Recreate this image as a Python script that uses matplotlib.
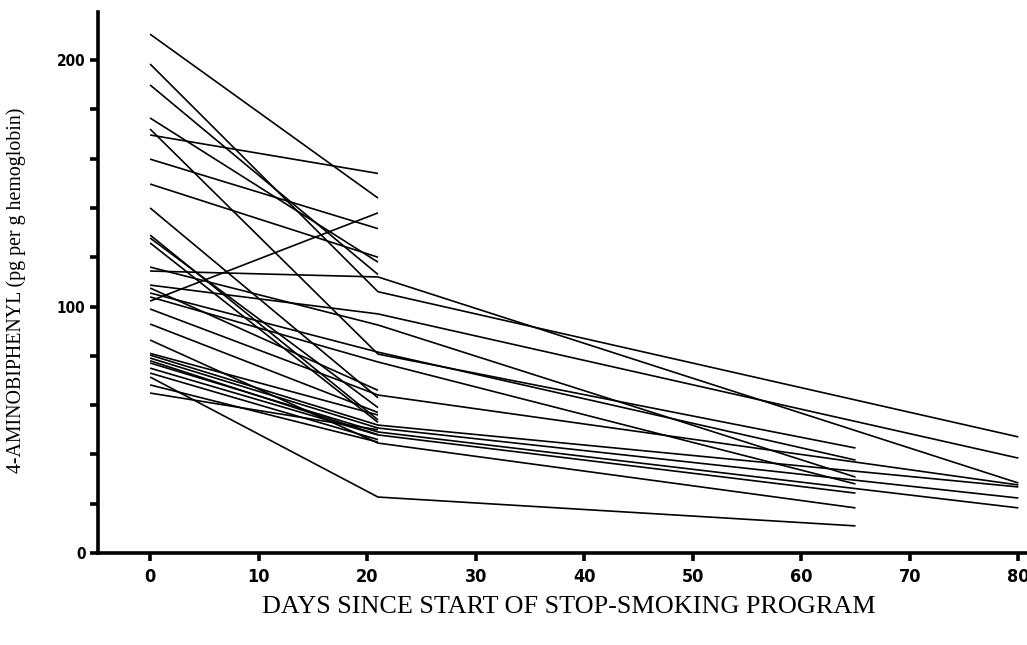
import matplotlib
matplotlib.use("Agg")
import matplotlib.pyplot as plt
from matplotlib import font_manager

# values (pg per g hemoglobin)
# each subject: day 0, day 21, then optional later visit (day 65 or 80)
start_vals = [210.5, 189.9, 176.5, 169.6, 159.8, 149.7, 140.0, 129.0, 127.8, 125.8,
              107.5, 102.2, 92.9, 68.2, 64.9, 81.0, 78.0, 73.0,
              114.4, 198.4, 108.7, 116.0, 105.5, 172.0, 103.9, 99.0,
              80.3, 79.1, 77.1, 75.0, 86.4, 71.4]
week3_vals = [144.0, 113.0, 118.0, 154.0, 131.6, 120.0, 63.0, 54.0, 59.0, 53.0,
              66.0, 138.0, 57.0, 45.0, 50.0, 56.0, 48.0, 46.0,
              112.0, 106.0, 97.0, 92.5, 81.5, 80.7, 77.5, 64.1,
              51.9, 50.7, 49.1, 47.9, 44.6, 22.7]
last_day = [None] * 18 + [80, 80, 80, 65, 65, 65, 65, 80,
                          80, 80, 80, 65, 65, 65]
last_vals = [None] * 18 + [28.4, 47.1, 38.5, 30.8, 37.7, 42.6, 28.0, 27.6,
                           26.8, 22.3, 18.3, 24.3, 18.3, 11.0]
day_week3 = 21

x_ticks = [0, 10, 20, 30, 40, 50, 60, 70, 80]
y_ticks = [0, 20, 40, 60, 80, 100, 120, 140, 160, 180, 200]
y_ticklabels = ['0', '', '', '', '', '100', '', '', '', '', '200']

# narrow bold digits like the original print, if a condensed face exists
names = {f.name for f in font_manager.fontManager.ttflist}
if 'Liberation Sans Narrow' in names:
    tick_kw = dict(family='Liberation Sans Narrow', weight='bold')
else:
    tick_kw = dict(family='DejaVu Sans', weight='bold', stretch='condensed')
label_font = ['Liberation Serif', 'DejaVu Serif']

fig = plt.figure(figsize=(10.27, 6.45), dpi=100)
ax = fig.add_axes([98 / 1027, 92 / 645, 929 / 1027, 541 / 645])

for i in range(len(start_vals)):
    xs = [0, day_week3]
    ys = [start_vals[i], week3_vals[i]]
    if last_day[i] is not None:
        xs.append(last_day[i])
        ys.append(last_vals[i])
    ax.plot(xs, ys, color='black', linewidth=1.2, solid_capstyle='butt')

ax.set_xlim(-4.8, 80.8)
ax.set_ylim(0, 219.5)

for side in ['top', 'right']:
    ax.spines[side].set_visible(False)
for side in ['left', 'bottom']:
    ax.spines[side].set_linewidth(2.6)

ax.set_xticks(x_ticks)
ax.set_xticklabels([str(t) for t in x_ticks], fontsize=13, **tick_kw)
ax.set_yticks(y_ticks)
ax.set_yticklabels(y_ticklabels, fontsize=11, **tick_kw)
ax.tick_params(axis='x', direction='out', length=6, width=2.6, pad=5)
ax.tick_params(axis='y', direction='out', length=6, width=2.6, pad=3)

ax.set_xlabel('DAYS SINCE START OF STOP-SMOKING PROGRAM', family=label_font,
              fontsize=18.8)
ax.xaxis.set_label_coords(0.507, -0.08)
ax.set_ylabel('4-AMINOBIPHENYL (pg per g hemoglobin)', family=label_font,
              fontsize=14.3)
ax.yaxis.set_label_coords(-0.077, 0.485)

fig.savefig('out.png', dpi=100)
